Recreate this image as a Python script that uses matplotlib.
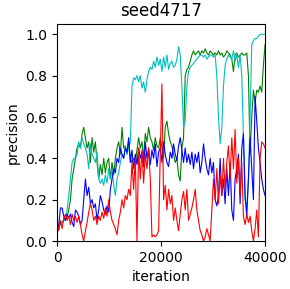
import numpy as np
import matplotlib
matplotlib.use("Agg")
import matplotlib.pyplot as plt


## precision per run (evenly spaced over 0..40000 iterations)
red = [0.10, 0.05, 0.10, 0.06, 0.11, 0.13, 0.10, 0.12, 0.08, 0.13, 0.10, 0.12, 0.09, 0.12, 0.08,
       0.03, 0.00, 0.05, 0.09, 0.14, 0.18, 0.15, 0.10, 0.12, 0.08, 0.12, 0.10, 0.14, 0.11, 0.16,
       0.12, 0.20, 0.14, 0.10, 0.08, 0.06, 0.03, 0.10, 0.14, 0.20, 0.16, 0.22, 0.20, 0.25, 0.22,
       0.38, 0.25, 0.40, 0.00, 0.45, 0.30, 0.44, 0.28, 0.42, 0.35, 0.45, 0.30, 0.02, 0.03, 0.02,
       0.03, 0.05, 0.42, 0.76, 0.20, 0.27, 0.15, 0.25, 0.18, 0.22, 0.10, 0.16, 0.10, 0.05, 0.13,
       0.20, 0.24, 0.15, 0.25, 0.10, 0.13, 0.16, 0.20, 0.25, 0.15, 0.10, 0.05, 0.03, 0.00, 0.02,
       0.06, 0.03, 0.00, 0.15, 0.30, 0.20, 0.35, 0.18, 0.32, 0.22, 0.40, 0.25, 0.38, 0.46, 0.30,
       0.50, 0.35, 0.54, 0.28, 0.40, 0.22, 0.38, 0.12, 0.08, 0.13, 0.09, 0.12, 0.05, 0.00, 0.06,
       0.15, 0.02, 0.40, 0.48, 0.47, 0.45]

blue = [0.06, 0.08, 0.16, 0.16, 0.12, 0.10, 0.13, 0.11, 0.13, 0.09, 0.07, 0.15, 0.14, 0.12, 0.08,
        0.10, 0.20, 0.30, 0.22, 0.26, 0.18, 0.20, 0.16, 0.18, 0.10, 0.15, 0.22, 0.19, 0.15, 0.13,
        0.17, 0.14, 0.25, 0.30, 0.35, 0.33, 0.40, 0.38, 0.45, 0.42, 0.40, 0.45, 0.43, 0.50, 0.38,
        0.44, 0.35, 0.42, 0.37, 0.45, 0.40, 0.43, 0.36, 0.48, 0.40, 0.45, 0.37, 0.44, 0.40, 0.47,
        0.36, 0.43, 0.45, 0.38, 0.48, 0.42, 0.38, 0.36, 0.43, 0.40, 0.47, 0.42, 0.39, 0.46, 0.50,
        0.44, 0.38, 0.45, 0.38, 0.42, 0.37, 0.43, 0.35, 0.42, 0.38, 0.43, 0.33, 0.38, 0.47, 0.40,
        0.35, 0.32, 0.40, 0.33, 0.38, 0.20, 0.17, 0.22, 0.40, 0.22, 0.30, 0.18, 0.35, 0.22, 0.38,
        0.15, 0.10, 0.30, 0.35, 0.42, 0.18, 0.45, 0.52, 0.22, 0.12, 0.30, 0.50, 0.35, 0.20, 0.70,
        0.58, 0.45, 0.38, 0.30, 0.25, 0.22]

green = [0.03, 0.08, 0.09, 0.09, 0.10, 0.10, 0.12, 0.15, 0.20, 0.30, 0.35, 0.40, 0.45, 0.47, 0.45,
         0.52, 0.55, 0.50, 0.45, 0.48, 0.38, 0.50, 0.43, 0.48, 0.38, 0.30, 0.37, 0.32, 0.40, 0.33,
         0.38, 0.40, 0.30, 0.38, 0.32, 0.40, 0.45, 0.48, 0.42, 0.55, 0.45, 0.46, 0.42, 0.48, 0.40,
         0.38, 0.40, 0.38, 0.44, 0.50, 0.45, 0.48, 0.40, 0.52, 0.48, 0.55, 0.50, 0.48, 0.44, 0.50,
         0.46, 0.45, 0.50, 0.45, 0.40, 0.55, 0.58, 0.52, 0.48, 0.46, 0.42, 0.38, 0.40, 0.32, 0.29,
         0.45, 0.50, 0.80, 0.83, 0.84, 0.87, 0.90, 0.92, 0.90, 0.91, 0.92, 0.90, 0.92, 0.91, 0.93,
         0.91, 0.90, 0.92, 0.91, 0.90, 0.91, 0.90, 0.92, 0.90, 0.91, 0.89, 0.90, 0.92, 0.91, 0.90,
         0.88, 0.82, 0.90, 0.91, 0.89, 0.90, 0.91, 0.90, 0.90, 0.91, 0.80, 0.42, 0.60, 0.73, 0.67,
         0.73, 0.72, 0.75, 0.72, 0.85, 0.95]

cyan = [0.05, 0.07, 0.08, 0.09, 0.10, 0.10, 0.15, 0.22, 0.30, 0.38, 0.40, 0.40, 0.42, 0.48, 0.45,
        0.50, 0.47, 0.45, 0.42, 0.35, 0.47, 0.42, 0.40, 0.38, 0.43, 0.30, 0.28, 0.30, 0.27, 0.32,
        0.28, 0.35, 0.30, 0.35, 0.27, 0.22, 0.30, 0.33, 0.38, 0.42, 0.40, 0.46, 0.42, 0.45, 0.48,
        0.75, 0.79, 0.78, 0.80, 0.77, 0.80, 0.74, 0.77, 0.72, 0.78, 0.82, 0.84, 0.83, 0.87, 0.84,
        0.89, 0.85, 0.88, 0.82, 0.89, 0.84, 0.90, 0.83, 0.86, 0.87, 0.84, 0.85, 0.88, 0.94, 0.90,
        0.75, 0.55, 0.58, 0.75, 0.82, 0.84, 0.85, 0.86, 0.87, 0.88, 0.89, 0.90, 0.90, 0.89, 0.90,
        0.88, 0.89, 0.90, 0.90, 0.89, 0.90, 0.80, 0.60, 0.47, 0.55, 0.75, 0.85, 0.88, 0.90, 0.89,
        0.88, 0.92, 0.87, 0.90, 0.84, 0.90, 0.80, 0.50, 0.20, 0.16, 0.30, 0.60, 0.95, 0.97, 0.98,
        0.98, 0.99, 1.00, 1.00, 1.00, 1.00]

max_iter = 40000


fig = plt.figure(figsize=(2.9, 2.89), dpi=100)
ax = fig.add_axes([0.197, 0.166, 0.717, 0.751])

for vals, col in [(green, "g"), (cyan, "c"), (blue, "b"), (red, "r")]:
    it = np.linspace(0, max_iter, len(vals))
    ax.plot(it, vals, color=col, lw=0.8)

ax.set_xlim(0, max_iter)
ax.set_ylim(0, 1.05)
ax.set_xticks([0, 20000, 40000])
ax.set_title("seed4717")
ax.set_xlabel("iteration")
ax.set_ylabel("precision")

fig.savefig("out.png", dpi=100)
